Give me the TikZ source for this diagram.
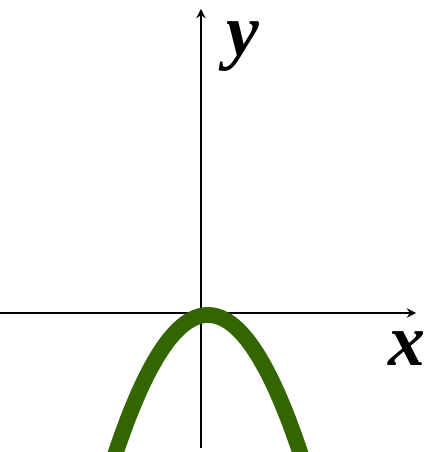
\documentclass[tikz,border=0pt]{standalone}
\usepackage{fontspec}
\setmainfont{Liberation Serif}
\definecolor{curvegreen}{RGB}{51,102,0}
\begin{document}
\begin{tikzpicture}[x=0.02cm, y=0.02cm, font=\fontsize{42}{42}\selectfont\bfseries\itshape, line join=round, >=stealth]
		\useasboundingbox (-201,-139) rectangle (232,313);
		\clip (-201,-139) rectangle (232,313);
		\draw[->, line width=1.3pt] (-201,0) -- (215,0);
		\draw[->, line width=1.3pt] (0,-135) -- (0,304);
		\node[inner sep=0pt] (ylabel) at (42,266) {y};
		\node[inner sep=0pt] (xlabel) at (206,-36) {x};
		\draw[curvegreen, line width=9pt, domain=-92:106, samples=100, smooth] plot (\x, {-2 - 0.01619*(\x-7)^2});
	\end{tikzpicture}
\end{document}
